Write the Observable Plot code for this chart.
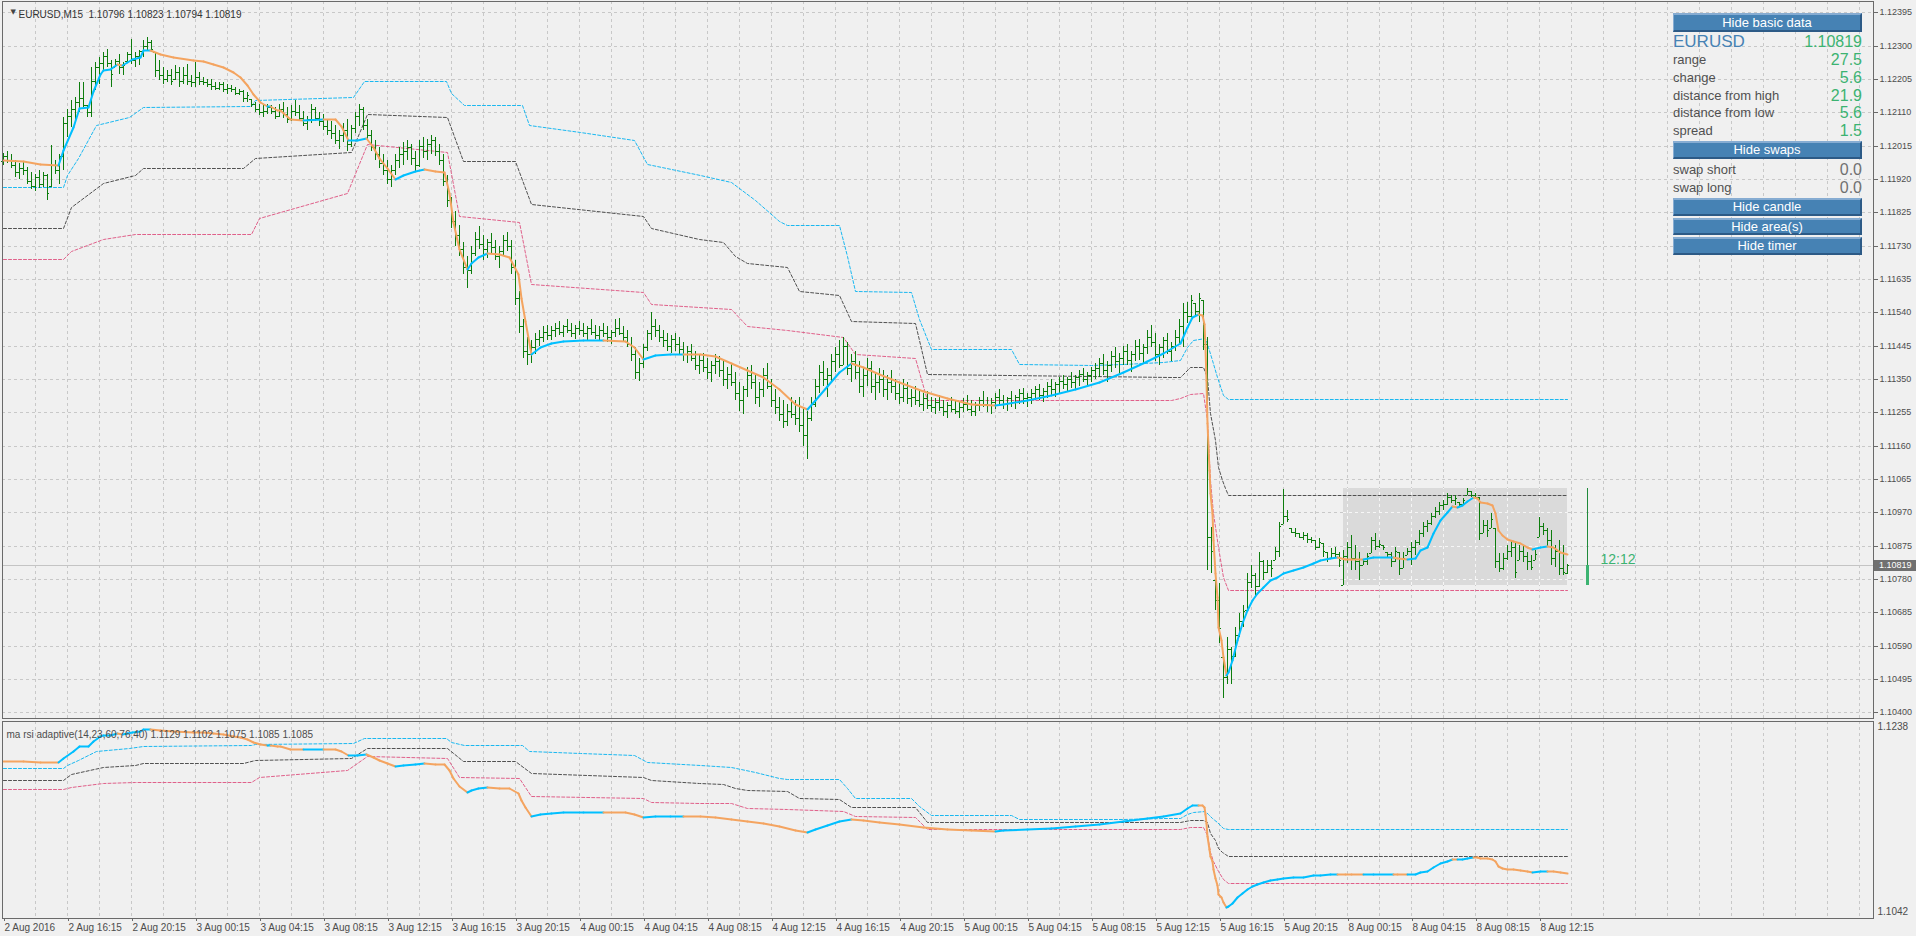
<!DOCTYPE html>
<html><head><meta charset="utf-8">
<script src="https://cdn.jsdelivr.net/npm/d3@7"></script>
<script src="https://cdn.jsdelivr.net/npm/@observablehq/plot@0.6"></script>
<style>
html,body{margin:0;padding:0;background:#f0f0f0;}
#wrap{position:relative;width:1916px;height:936px;overflow:hidden;background:#f0f0f0;font-family:"Liberation Sans",Arial,sans-serif;}
#wrap svg{position:absolute;left:0;}
.btn{position:absolute;left:1673px;width:189px;background:#4682b4;color:#fff;font-size:13px;text-align:center;box-sizing:border-box;border-top:2px solid #86acd2;border-left:1px solid #86acd2;border-bottom:2px solid #2c5a86;border-right:2px solid #2c5a86;}
.lbl{position:absolute;left:1673px;font-size:13px;color:#505050;line-height:18px;}
.val{position:absolute;right:54px;font-size:16px;color:#3cb371;line-height:18px;text-align:right;}
.plabel{position:absolute;left:1874px;width:42px;height:11px;background:#707070;color:#fff;font-size:9px;line-height:11px;padding-left:5px;box-sizing:border-box;}
</style></head>
<body><div id="wrap"></div>
<script>
// ---------- DATA (prices in points above 1.10000) ----------
const barHigh = [
1995,2000,1990,1975,1965,1970,1955,1940,1935,1945,
1940,1935,2016,1973,1992,2097,2120,2144,2153,2196,
2196,2130,2239,2253,2268,2282,2291,2258,2263,2277,
2253,2282,2320,2282,2287,2315,2325,2315,2282,2258,
2239,2230,2234,2244,2239,2239,2249,2215,2253,2225,
2211,2206,2206,2196,2196,2196,2192,2187,2182,2177,
2173,2168,2149,2139,2135,2130,2135,2130,2125,2135,
2140,2125,2130,2145,2130,2115,2100,2135,2125,2110,
2105,2090,2085,2075,2060,2080,2090,2075,2110,2135,
2125,2090,2060,2030,2010,1990,1975,1960,1990,2010,
2025,2030,2020,2000,2030,2040,2035,2045,2040,2020,
1990,1930,1870,1830,1790,1740,1700,1730,1770,1785,
1760,1750,1765,1745,1730,1760,1770,1745,1690,1600,
1520,1470,1460,1480,1490,1500,1505,1500,1510,1515,
1505,1520,1510,1505,1515,1510,1500,1520,1505,1500,
1510,1500,1490,1520,1525,1500,1490,1470,1440,1410,
1450,1490,1540,1520,1505,1490,1480,1475,1480,1470,
1455,1445,1450,1430,1420,1425,1410,1400,1420,1415,
1400,1385,1395,1370,1340,1330,1385,1390,1360,1340,
1380,1395,1350,1320,1300,1290,1280,1300,1290,1300,
1270,1260,1300,1350,1390,1400,1380,1420,1440,1460,
1470,1455,1420,1430,1400,1380,1410,1400,1370,1380,
1375,1360,1375,1350,1340,1350,1340,1320,1330,1320,
1310,1315,1300,1295,1305,1290,1285,1300,1290,1285,
1295,1305,1290,1285,1300,1315,1300,1295,1310,1320,
1305,1300,1315,1305,1320,1325,1310,1320,1330,1335,
1325,1340,1350,1340,1355,1360,1355,1370,1360,1375,
1380,1370,1385,1395,1410,1420,1400,1430,1440,1425,
1445,1450,1430,1460,1465,1450,1490,1505,1480,1450,
1470,1480,1455,1490,1520,1566,1570,1589,1566,1596,
1575,1470,929,777,768,559,616,587,644,682,
706,796,820,796,858,834,834,834,872,943,
1035,976,924,924,910,915,910,901,891,896,
882,858,867,872,858,863,886,905,877,858,
834,853,901,910,891,877,858,858,872,858,
858,867,886,891,920,943,948,967,986,1000,
1005,1024,1019,1019,1000,1010,1038,1032,1024,1015,
948,948,967,924,853,853,877,891,886,877,
877,858,848,863,958,939,924,920,877,891,
877,823];
const barLow = [
1960,1965,1950,1925,1920,1930,1905,1890,1885,1895,
1897,1859,1897,1935,1907,1945,2040,2068,2087,2111,
2125,2097,2097,2173,2192,2230,2239,2182,2239,2220,
2215,2253,2248,2239,2244,2268,2287,2282,2211,2201,
2192,2196,2187,2201,2182,2192,2187,2182,2182,2187,
2187,2182,2173,2173,2173,2168,2163,2168,2158,2158,
2139,2139,2125,2111,2101,2097,2106,2106,2092,2097,
2095,2080,2085,2100,2085,2070,2060,2080,2085,2070,
2060,2045,2035,2020,2005,2025,2000,2010,2050,2070,
2060,2030,2000,1975,1950,1930,1905,1897,1930,1950,
1960,1975,1960,1940,1955,1980,1975,1990,1985,1960,
1900,1840,1780,1730,1700,1650,1608,1650,1700,1720,
1690,1695,1710,1690,1665,1700,1715,1650,1560,1480,
1410,1390,1395,1420,1445,1455,1460,1460,1470,1475,
1470,1480,1470,1465,1475,1470,1460,1475,1465,1460,
1470,1455,1450,1470,1475,1455,1440,1400,1350,1345,
1380,1430,1460,1470,1455,1440,1430,1425,1430,1420,
1400,1395,1400,1375,1365,1370,1350,1340,1365,1355,
1330,1320,1330,1290,1260,1250,1300,1320,1280,1270,
1300,1320,1270,1250,1230,1210,1215,1240,1220,1200,
1160,1121,1230,1270,1310,1330,1300,1340,1370,1380,
1390,1360,1340,1350,1310,1300,1330,1310,1290,1310,
1300,1290,1310,1290,1280,1285,1280,1270,1275,1270,
1260,1265,1255,1250,1260,1245,1240,1255,1250,1240,
1255,1260,1245,1245,1260,1270,1255,1250,1265,1275,
1265,1260,1270,1265,1280,1280,1270,1280,1290,1290,
1285,1295,1305,1300,1310,1320,1315,1325,1320,1330,
1340,1330,1340,1350,1355,1360,1340,1370,1380,1365,
1390,1390,1370,1400,1405,1395,1420,1440,1400,1390,
1410,1420,1400,1430,1450,1442,1510,1527,1532,1513,
1432,806,796,692,597,440,482,482,559,616,
644,692,753,730,758,777,796,787,834,843,
938,943,910,901,896,891,882,882,862,867,
844,829,839,844,815,763,825,806,806,777,
820,820,853,863,867,863,844,815,829,791,
810,848,820,848,877,901,915,934,953,962,
977,991,996,991,986,991,1019,1015,1010,891,
910,901,924,810,801,806,834,844,782,834,
829,806,806,834,901,905,872,820,815,791,
791,794];
const barOpen = [
1970,1985,1975,1960,1940,1950,1945,1915,1900,1925,
1905,1930,1900,1960,1945,1985,2080,2100,2120,2140,
2150,2130,2110,2200,2240,2250,2270,2250,2240,2255,
2240,2255,2275,2260,2270,2285,2300,2310,2282,2230,
2215,2205,2215,2205,2225,2200,2215,2200,2195,2210,
2200,2195,2190,2185,2180,2190,2175,2180,2175,2165,
2170,2150,2149,2135,2120,2110,2115,2125,2115,2100,
2120,2105,2090,2115,2110,2095,2080,2090,2120,2095,
2085,2070,2060,2050,2030,2045,2060,2020,2065,2100,
2120,2075,2045,2010,1990,1965,1945,1920,1945,1975,
1990,2000,2010,1980,1960,2015,2000,2020,2030,2000,
1975,1915,1860,1800,1760,1720,1670,1660,1710,1750,
1735,1720,1740,1725,1700,1715,1745,1730,1670,1580,
1500,1430,1420,1440,1465,1470,1485,1475,1490,1495,
1485,1500,1490,1480,1495,1490,1480,1495,1485,1475,
1490,1480,1470,1485,1495,1480,1470,1450,1420,1370,
1395,1440,1480,1500,1490,1470,1460,1445,1465,1450,
1435,1420,1430,1410,1390,1405,1385,1370,1390,1400,
1375,1350,1365,1340,1310,1290,1320,1360,1340,1300,
1320,1360,1330,1290,1270,1250,1230,1260,1250,1240,
1220,1190,1240,1280,1330,1370,1350,1360,1400,1420,
1390,1445,1380,1400,1370,1330,1360,1380,1330,1340,
1350,1320,1340,1330,1310,1300,1325,1295,1300,1290,
1280,1295,1275,1270,1285,1270,1260,1275,1265,1260,
1270,1280,1265,1260,1275,1290,1280,1275,1285,1300,
1290,1280,1295,1285,1300,1310,1295,1300,1310,1320,
1305,1315,1330,1320,1335,1345,1335,1350,1340,1355,
1365,1350,1360,1375,1380,1395,1375,1390,1415,1400,
1410,1430,1405,1420,1445,1425,1440,1470,1455,1420,
1440,1460,1430,1445,1470,1500,1540,1530,1566,1545,
1575,1450,900,777,720,559,500,580,560,620,
660,692,770,790,760,830,800,820,834,860,
938,960,924,915,910,900,905,895,890,870,
882,858,840,855,850,763,845,870,840,830,
820,830,853,890,875,877,858,850,830,858,
810,848,860,870,885,910,930,940,960,975,
990,995,1015,1005,1000,995,1019,1030,1020,1015,
910,935,924,924,830,810,840,860,870,834,
860,845,830,834,901,930,920,890,840,860,
810,796];
const barClose = [
1985,1975,1960,1940,1950,1945,1915,1900,1925,1905,
1930,1880,1960,1945,1985,2080,2100,2120,2140,2150,
2130,2110,2200,2240,2250,2270,2250,2220,2255,2240,
2245,2275,2260,2270,2285,2300,2310,2290,2230,2215,
2205,2215,2200,2225,2200,2215,2200,2195,2210,2200,
2195,2190,2185,2180,2190,2175,2180,2175,2165,2170,
2150,2160,2135,2120,2110,2115,2125,2115,2100,2120,
2105,2090,2115,2110,2095,2080,2090,2120,2095,2085,
2070,2060,2050,2030,2045,2060,2020,2065,2100,2120,
2075,2045,2010,1990,1965,1945,1920,1945,1975,1990,
2000,2010,1980,1960,2015,2000,2020,2030,2000,1975,
1915,1860,1800,1760,1720,1670,1660,1710,1750,1735,
1720,1740,1725,1700,1715,1745,1730,1670,1580,1500,
1430,1420,1440,1465,1470,1485,1475,1490,1495,1485,
1500,1490,1480,1495,1490,1480,1495,1485,1475,1490,
1480,1470,1485,1495,1480,1470,1450,1420,1370,1395,
1440,1480,1500,1490,1470,1460,1445,1465,1450,1435,
1420,1430,1410,1390,1405,1385,1370,1390,1400,1375,
1350,1365,1340,1310,1290,1320,1360,1340,1300,1320,
1360,1330,1290,1270,1250,1230,1260,1250,1240,1220,
1190,1240,1280,1330,1370,1350,1360,1400,1420,1390,
1445,1380,1400,1370,1330,1360,1380,1330,1340,1350,
1320,1340,1330,1310,1300,1325,1295,1300,1290,1280,
1295,1275,1270,1285,1270,1260,1275,1265,1260,1270,
1280,1265,1260,1275,1290,1280,1275,1285,1300,1290,
1280,1295,1285,1300,1310,1295,1300,1310,1320,1305,
1315,1330,1320,1335,1345,1335,1350,1340,1355,1365,
1350,1360,1375,1380,1395,1375,1390,1415,1400,1410,
1430,1405,1420,1445,1425,1440,1470,1455,1420,1440,
1460,1430,1445,1470,1500,1540,1530,1575,1545,1580,
1450,900,860,720,640,500,580,560,620,660,
690,770,790,760,830,800,820,810,860,930,
960,950,915,910,900,905,895,890,870,885,
860,840,855,850,835,845,870,840,830,820,
830,845,890,875,880,870,850,830,860,810,
840,860,870,885,910,930,940,960,975,990,
995,1015,1005,1010,995,1005,1030,1020,1015,910,
935,920,950,830,810,840,860,870,800,860,
845,830,815,850,930,920,890,840,860,810,
800,819];

// adaptive MA (bar position, value)
const maIdx = [0,5,9.25,13.8,15.1,17.6,19.1,21.3,22.6,24.25,25.1,26.75,28.4,29.7,30.9,32.2,34.25,35.1,36.75,39.25,42.6,47.6,50.1,52.6,55.1,57.6,59.25,60.9,62.6,64.25,65.9,66.75,68.4,69.25,71.8,75,80,83,84.5,86.3,88.5,90.8,92.5,94.1,96,98,100,103,105.3,108,110.3,111.5,112.5,114,115.9,117,118.7,120.9,124,126.5,128.7,129.5,130.4,132,134.3,137,139.9,145,150,155.5,157.7,160,163,166.7,170,174.3,178,182,186,190,194,198,201,203,206,209,212,215,219,224,230,236,242,248,250,256,262,268,274,280,286,290,294.25,295.9,297.2,298.8,299.7,300.25,300.5,300.75,301.1,301.4,301.75,302.2,302.6,303,303.4,303.8,304.4,305.1,305.75,306.3,307.2,308.4,309.7,311,312.2,313.4,315.1,316.75,318.4,320.1,322.6,325.1,327.6,329.25,331.75,333.4,335.5,337,340.1,342.6,347.6,348.4,350.9,353,354.25,355.9,357.6,359.25,360.9,362.2,363.4,364.7,366,367.6,368.4,369.25,370.9,372.2,373,373.8,374.7,375.9,377.6,379.25,380.9,382.2,384.25,385.9,387.6,389.25,391];
const maVal = [1975,1972,1962,1960,2002,2068,2123,2124,2172,2220,2230,2234,2249,2244,2253,2263,2269,2287,2288,2277,2268,2258,2256,2249,2239,2225,2211,2187,2163,2139,2127,2128,2117,2116,2090,2089,2092,2091,2070,2031,2032,2036,2010,1981,1950,1921,1930,1942,1948,1944,1941,1880,1798,1720,1664,1680,1698,1708,1705,1698,1648,1580,1514,1421,1441,1452,1458,1460,1462,1458,1441,1408,1418,1421,1422,1421,1415,1395,1375,1355,1320,1280,1265,1290,1330,1370,1395,1385,1365,1340,1315,1295,1280,1275,1278,1290,1305,1320,1340,1370,1400,1425,1452,1499,1526,1534,1532,1508,1442,1347,1224,1090,1024,967,891,796,730,644,606,559,506,516,549,606,654,692,720,739,758,777,787,796,806,815,826,834,839,842,838,837,836,844,844,839,836,839,862,872,910,948,972,988,986,991,1003,1013,1010,1000,996,991,967,920,905,893,889,882,870,865,870,874,870,858,850];

// upper (cyan), middle (dark) and lower (pink) levels
const upIdx = [0,14.9,16,18.8,23.2,31.6,35,62,63,87.4,90.2,110.8,112,115.3,129.8,131.5,144.3,157.7,161,174.3,182,188,194,196,209,211,213,227,229,232,252,254,272,280,290,294.25,295.9,297.6,300.5,301.3,302.2,303.4,305.1,306.3,391];
const upVal = [1897,1897,1931,1981,2074,2098,2125,2128,2144,2154,2198,2198,2164,2131,2131,2074,2054,2031,1964,1931,1910,1860,1800,1790,1790,1700,1600,1598,1520,1434,1434,1392,1389,1392,1398,1404,1442,1461,1466,1442,1404,1357,1304,1292,1292];
const midIdx = [0,15,17,25,33,35,60,63,87,91,111,115,128,132,160,162,174,180,183,186,196,199,209,212,228,231,292,294.25,296.75,300.1,300.9,301.75,303,303.8,304.7,305.5,306.3,391];
const midVal = [1781,1781,1841,1908,1931,1950,1950,1981,1998,2104,2098,1971,1971,1848,1814,1781,1748,1740,1700,1680,1670,1600,1590,1515,1510,1365,1357,1357,1383,1385,1356,1252,1176,1100,1062,1038,1019,1019];
const lowIdx = [0,15,17,25,33,62,64,86,91,111,114,129,132,160,162,174,182,186,196,210,213,228,231,292,294.25,296.75,300.1,300.9,301.75,302.6,303.8,305.1,306.3,391];
const lowVal = [1691,1691,1714,1748,1764,1764,1808,1881,2021,1998,1814,1798,1621,1598,1564,1554,1550,1500,1490,1470,1420,1410,1290,1290,1295,1307,1309,1233,1062,967,872,787,748,748];

const xLabelIdx = [0,16,32,48,64,80,96,112,128,144,160,176,192,208,224,240,256,272,288,304,320,336,352,368,384];
const xLabelText = ["2 Aug 2016","2 Aug 16:15","2 Aug 20:15","3 Aug 00:15","3 Aug 04:15","3 Aug 08:15","3 Aug 12:15","3 Aug 16:15","3 Aug 20:15","4 Aug 00:15","4 Aug 04:15","4 Aug 08:15","4 Aug 12:15","4 Aug 16:15","4 Aug 20:15","5 Aug 00:15","5 Aug 04:15","5 Aug 08:15","5 Aug 12:15","5 Aug 16:15","5 Aug 20:15","8 Aug 00:15","8 Aug 04:15","8 Aug 08:15","8 Aug 12:15"];

const dayStart = 335;      // first bar of 8 Aug
const dayOpen = 763;       // daily open (points)
const candleShift = 5;     // daily candle drawn 5 bars right of the last bar
const timerText = "12:12";
const headerText = "EURUSD,M15  1.10796 1.10823 1.10794 1.10819";
const lowerTitle = "ma rsi adaptive(14,23,60,76,40) 1.1129 1.1102 1.1075 1.1085 1.1085";
const infoRows = [["range","27.5"],["change","5.6"],["distance from high","21.9"],["distance from low","5.6"],["spread","1.5"]];
const swapRows = [["swap short","0.0"],["swap long","0.0"]];

// ---------- BUILD ----------
const P = v => 1.1 + v / 1e5;
const bars = barHigh.map((h, i) => ({i, high: P(h), low: P(barLow[i]), open: P(barOpen[i]), close: P(barClose[i])}));
const last = bars[bars.length - 1];
const dayBars = bars.slice(dayStart);
const dayHigh = d3.max(dayBars, d => d.high), dayLow = d3.min(dayBars, d => d.low);
const area = [{x1: dayStart, x2: last.i, y1: dayLow, y2: dayHigh}];
const candle = [{i: last.i + candleShift, high: dayHigh, low: dayLow, open: P(dayOpen), close: last.close}];

const toPts = (I, V) => I.map((x, k) => ({x, v: P(V[k])}));
const upPts = toPts(upIdx, upVal), midPts = toPts(midIdx, midVal), lowPts = toPts(lowIdx, lowVal);
const maPts = toPts(maIdx, maVal);
const maSegs = [];
let dir = "down";
for (let k = 0; k < maPts.length - 1; k++) {
  const a = maPts[k], b = maPts[k + 1];
  if (b.v > a.v) dir = "up"; else if (b.v < a.v) dir = "down";
  maSegs.push({x1: a.x, y1: a.v, x2: b.x, y2: b.v, dir});
}

const BLUE = "#00bfff", ORANGE = "#f4a460", BAR = "#0d7d0d", GRID = "#c8c8c8", BORDER = "#6a6a6a";
const CYAN = "#1ab8f0", DARK = "#505050", PINK = "#e0608a";
const gridX = d3.range(8, 468, 8);
const yTicks = d3.range(0, 22).map(k => +(1.104 + k * 0.00095).toFixed(5));
const labelMap = new Map(xLabelIdx.map((d, k) => [d, xLabelText[k]]));
const W = 1916;
const xScale = {type: "linear", domain: [0, 467.5], range: [3, 1873], axis: null, round: true};

const bandMarks = () => [
  Plot.line(upPts, {x: "x", y: "v", stroke: CYAN, strokeWidth: 1, strokeDasharray: "3,2"}),
  Plot.line(midPts, {x: "x", y: "v", stroke: DARK, strokeWidth: 1, strokeDasharray: "3,2"}),
  Plot.line(lowPts, {x: "x", y: "v", stroke: PINK, strokeWidth: 1, strokeDasharray: "3,2"})
];
const maMark = () => Plot.link(maSegs, {x1: "x1", y1: "y1", x2: "x2", y2: "y2",
  stroke: d => d.dir === "up" ? BLUE : ORANGE, strokeWidth: 2, strokeLinecap: "round"});

const main = Plot.plot({
  width: W, height: 720,
  marginLeft: 2, marginRight: 43, marginTop: 1, marginBottom: 2,
  x: xScale,
  y: {type: "linear", domain: [1.104, 1.12395], range: [712.3, 12.3], axis: null, round: true},
  style: {background: "transparent", fontFamily: "Liberation Sans, Arial, sans-serif", fontSize: "9px", color: "#4d4d4d", overflow: "visible"},
  marks: [
    Plot.ruleY(yTicks, {stroke: GRID, strokeDasharray: "3,3"}),
    Plot.ruleX(gridX, {stroke: GRID, strokeDasharray: "3,3"}),
    Plot.ruleY([last.close], {stroke: "#c4c4c4"}),
    Plot.rect(area, {x1: "x1", x2: "x2", y1: "y1", y2: "y2", fill: "#dadada"}),
    Plot.ruleX(gridX.filter(g => g >= dayStart && g <= last.i), {y1: dayLow, y2: dayHigh, stroke: "#f6f6f6", strokeDasharray: "3,3"}),
    Plot.ruleY(yTicks.filter(t => t >= dayLow && t <= dayHigh), {x1: dayStart, x2: last.i, stroke: "#f6f6f6", strokeDasharray: "3,3"}),
    ...bandMarks(),
    Plot.ruleX(bars, {x: "i", y1: "low", y2: "high", stroke: BAR}),
    Plot.ruleY(bars, {y: "open", x1: d => d.i - 0.5, x2: "i", stroke: BAR}),
    Plot.ruleY(bars, {y: "close", x1: "i", x2: d => d.i + 0.5, stroke: BAR}),
    maMark(),
    Plot.ruleX(candle, {x: "i", y1: "low", y2: "high", stroke: "#1f8a3a"}),
    Plot.ruleX(candle, {x: "i", y1: "open", y2: "close", stroke: "#3cb371", strokeWidth: 3}),
    Plot.text(candle, {x: "i", y: "close", text: () => timerText, dx: 13, dy: -6, textAnchor: "start", fill: "#3cb371", fontSize: 14}),
    Plot.text(["\u25BC"], {frameAnchor: "top-left", dx: 8, dy: 8, fontSize: 7, fill: "#444", fontFamily: "DejaVu Sans"}),
    Plot.text([headerText], {frameAnchor: "top-left", dx: 16, dy: 9, textAnchor: "start", fontSize: 10, fill: "#333"}),
    Plot.axisY(yTicks, {anchor: "right", tickSize: 4, tickPadding: 2, tickFormat: d3.format(".5f"), stroke: BORDER}),
    Plot.frame({stroke: BORDER})
  ]
});
main.style.top = "0px";

const lower = Plot.plot({
  width: W, height: 217,
  marginLeft: 2, marginRight: 43, marginTop: 2, marginBottom: 18,
  x: xScale,
  y: {type: "linear", domain: [1.1042, 1.1238], range: [197, 1.1], axis: null, round: true},
  style: {background: "transparent", fontFamily: "Liberation Sans, Arial, sans-serif", fontSize: "10px", color: "#4d4d4d", overflow: "visible"},
  marks: [
    Plot.ruleX(gridX, {stroke: GRID, strokeDasharray: "3,3"}),
    ...bandMarks(),
    maMark(),
    Plot.text([lowerTitle], {frameAnchor: "top-left", dx: 4, dy: 9, textAnchor: "start", fontSize: 10, fill: "#4d4d4d"}),
    Plot.axisX(xLabelIdx, {anchor: "bottom", tickSize: 3, tickPadding: 2, tickFormat: d => labelMap.get(d), textAnchor: "start", dx: 1, stroke: BORDER}),
    Plot.axisY([1.1238], {anchor: "right", tickSize: 0, tickPadding: 4, tickFormat: d3.format(".4f"), dy: 6}),
    Plot.axisY([1.1042], {anchor: "right", tickSize: 0, tickPadding: 4, tickFormat: d3.format(".4f"), dy: -5}),
    Plot.frame({stroke: BORDER})
  ]
});
lower.style.top = "719px";

const wrap = document.getElementById("wrap");
wrap.appendChild(main);
wrap.appendChild(lower);

// current price label on the axis
const py = main.scale("y").apply(last.close);
const pl = document.createElement("div");
pl.className = "plabel";
pl.style.top = (py - 5.5) + "px";
pl.textContent = last.close.toFixed(5);
wrap.appendChild(pl);

// info panel
function add(cls, text, top, extra) {
  const d = document.createElement("div");
  d.className = cls; d.textContent = text; d.style.top = top + "px";
  if (extra) Object.assign(d.style, extra);
  wrap.appendChild(d);
  return d;
}
const btn = (text, top, h) => add("btn", text, top, {height: h + "px", lineHeight: (h - 4) + "px"});
btn("Hide basic data", 13, 19);
add("lbl", "EURUSD", 33, {fontSize: "17px", color: "#4682b4"});
add("val", last.close.toFixed(5), 33);
infoRows.forEach((r, k) => {
  const top = 51 + k * 17.8;
  add("lbl", r[0], top);
  add("val", r[1], top);
});
btn("Hide swaps", 141, 18);
swapRows.forEach((r, k) => {
  const top = 161 + k * 18;
  add("lbl", r[0], top);
  add("val", r[1], top, {color: "#707070"});
});
btn("Hide candle", 198, 18);
btn("Hide area(s)", 218, 17);
btn("Hide timer", 237, 18);
</script></body></html>
